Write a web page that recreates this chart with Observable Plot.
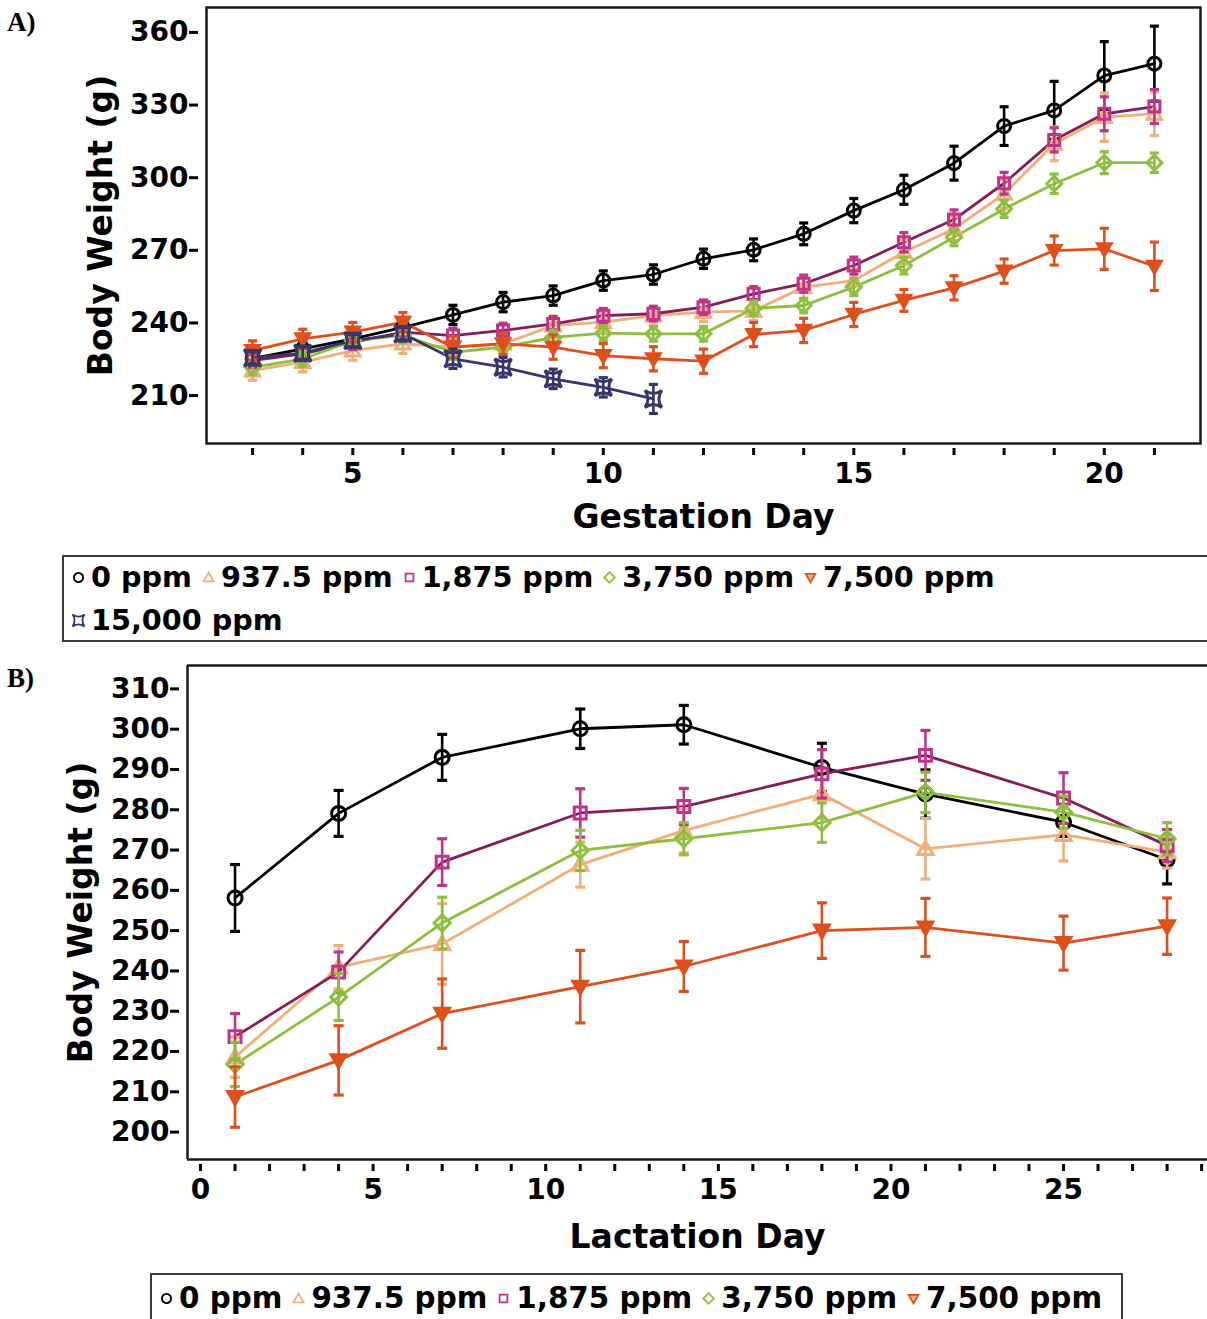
<!DOCTYPE html>
<html><head><meta charset="utf-8">
<script src="https://cdn.jsdelivr.net/npm/d3@7"></script>
<script src="https://cdn.jsdelivr.net/npm/@observablehq/plot@0.6"></script>
<style>
body{margin:0;background:#fff;font-family:"DejaVu Sans",sans-serif;}
#root{position:relative;width:1207px;height:1319px;overflow:hidden;background:#fff;}
.panel{position:absolute;left:0;}
.tag{position:absolute;left:7px;font-family:"Liberation Serif","Times New Roman",serif;font-weight:bold;font-size:27px;line-height:1;}
.legend{position:absolute;border:2px solid #3a3a3a;box-sizing:border-box;font-weight:bold;color:#000;font-family:"DejaVu Sans",sans-serif;}
.row{position:absolute;display:flex;align-items:center;white-space:nowrap;height:36px;}
.item{display:inline-flex;align-items:center;}
.item svg{margin-right:5px;}
</style></head><body><div id="root"></div>
<script>
// ---------- data ----------
const seriesNames = ["0 ppm", "937.5 ppm", "1,875 ppm", "3,750 ppm", "7,500 ppm", "15,000 ppm"];

// Panel A: Gestation
const gestationDays = [3, 4, 5, 6, 7, 8, 9, 10, 11, 12, 13, 14, 15, 16, 17, 18, 19, 20, 21];
const gest0     = [225.3, 229.3, 233.4, 238.2, 243.3, 248.6, 251.3, 257.5, 260.0, 266.5, 270.2, 276.8, 286.4, 295.0, 306.0, 321.3, 327.8, 342.2, 347.1];
const gest0Err  = [3, 3, 3, 3, 4, 4, 4, 4, 4, 4, 4.5, 4.5, 5, 6, 7, 8, 12, 14, 15.5];
const gest937   = [220.3, 223.8, 228.6, 231.4, 230.0, 231.4, 238.9, 240.3, 243.0, 244.5, 245.0, 254.8, 257.5, 269.2, 278.9, 293.3, 314.0, 325.0, 326.4];
const gest937Err= [4, 4, 4, 4, 4, 4, 4, 4, 4, 4, 4, 5, 5, 5, 5, 6, 7, 10, 9];
const gest1875  = [224.5, 227.2, 232.0, 236.2, 234.8, 236.9, 239.6, 243.0, 243.8, 246.5, 252.0, 256.2, 263.7, 273.3, 282.7, 297.7, 315.6, 326.4, 329.4];
const gest1875Err=[3, 3, 3, 3, 3, 3, 3, 3, 3, 3, 3, 3.5, 3.5, 4, 4, 4.5, 5, 7, 7];
const gest3750  = [221.7, 225.1, 232.7, 234.9, 227.9, 230.0, 234.0, 235.8, 235.5, 235.5, 246.0, 247.2, 254.8, 263.7, 275.4, 287.1, 297.5, 306.2, 306.2];
const gest3750Err=[3, 3, 3, 3, 3, 3, 3, 3, 3, 3, 3, 3, 3.5, 3.5, 3.5, 3.5, 4, 4.5, 4];
const gest7500  = [228.6, 233.4, 236.2, 240.3, 230.0, 231.4, 230.0, 226.5, 225.2, 224.2, 235.2, 236.9, 243.5, 249.3, 254.5, 261.4, 269.9, 270.6, 263.4];
const gest7500Err=[4, 4, 4, 4, 4.5, 4.5, 5, 5, 5, 5, 5, 5, 5, 4.5, 5, 5, 6, 8.5, 10];
const gest15000Days = [3, 4, 5, 6, 7, 8, 9, 10, 11];
const gest15000 = [225.6, 227.5, 232.7, 235.5, 225.2, 221.7, 216.9, 213.4, 208.6];
const gest15000Err=[3, 3, 3, 3, 4, 4, 4, 4, 6];

// Panel B: Lactation
const lactationDays = [1, 4, 7, 11, 14, 18, 21, 25, 28];
const lact0      = [258.1, 279.1, 293.0, 300.1, 301.1, 290.5, 283.9, 276.9, 267.6];
const lact0Err   = [8.3, 5.7, 5.7, 4.9, 4.8, 6, 6, 3.5, 6];
const lact937    = [218.6, 240.9, 246.7, 266.4, 274.8, 283.9, 270.3, 273.8, 269.5];
const lact937Err = [5, 5.4, 10, 5.6, 5.5, 6, 7.5, 6.5, 4];
const lact1875   = [223.7, 239.7, 267.0, 279.2, 280.8, 288.9, 293.5, 282.9, 271.1];
const lact1875Err= [5.7, 5, 5.8, 6, 4.5, 6, 6.2, 6.3, 4];
const lact3750   = [216.8, 233.5, 251.9, 269.9, 272.8, 276.8, 284.3, 279.4, 272.8];
const lact3750Err= [5.5, 5.8, 6.4, 5, 4, 4.9, 5, 4, 4];
const lact7500   = [208.7, 217.8, 229.4, 236.1, 241.1, 250.0, 250.8, 246.9, 251.1];
const lact7500Err= [7.5, 8.6, 8.6, 9, 6.2, 6.9, 7.2, 6.7, 7];

// tick values
const gestYTicks = [210, 240, 270, 300, 330, 360];
const gestXTicks = gestationDays;
const gestXLabels = [5, 10, 15, 20];
const lactYTicks = [200, 210, 220, 230, 240, 250, 260, 270, 280, 290, 300, 310];
const lactXTicks = [0, 1, 2, 3, 4, 5, 6, 7, 8, 9, 10, 11, 12, 13, 14, 15, 16, 17, 18, 19, 20, 21, 22, 23, 24, 25, 26, 27, 28, 29];
const lactXLabels = [0, 5, 10, 15, 20, 25];

// ---------- styles ----------
const lineColors = ["#000000", "#F2AE78", "#861C58", "#8CC03C", "#DE4F1C", "#37356C"];
const markColors = ["#000000", "#F2AE78", "#C0338A", "#8CC03C", "#DE4F1C", "#37356C"];

function rad(size) { return Math.sqrt(size / Math.PI); }
const symCircle = {draw(c, s) { const r = rad(s); c.moveTo(r, 0); c.arc(0, 0, r, 0, 2 * Math.PI); c.closePath(); }};
const symUp = {draw(c, s) { const r = rad(s) * 1.1; c.moveTo(0, -r); c.lineTo(r, r * 0.75); c.lineTo(-r, r * 0.75); c.closePath(); }};
const symSquare = {draw(c, s) { const r = rad(s) * 0.85; c.rect(-r, -r, 2 * r, 2 * r); }};
const symDiamond = {draw(c, s) { const r = rad(s) * 1.15; c.moveTo(0, -r); c.lineTo(r, 0); c.lineTo(0, r); c.lineTo(-r, 0); c.closePath(); }};
const symDown = {draw(c, s) { const r = rad(s) * 1.05; c.moveTo(-r, -r * 0.75); c.lineTo(r, -r * 0.75); c.lineTo(0, r); c.closePath(); }};
const symStar = {draw(c, s) { const r = rad(s) * 1.3; const k = r * 0.3;
  c.moveTo(-r, -r); c.quadraticCurveTo(0, -k, r, -r); c.quadraticCurveTo(k, 0, r, r);
  c.quadraticCurveTo(0, k, -r, r); c.quadraticCurveTo(-k, 0, -r, -r); c.closePath(); }};
const symCap = {draw(c, s) { const r = rad(s); c.moveTo(-r, 0); c.lineTo(r, 0); }};
const symbols = [symCircle, symUp, symSquare, symDiamond, symDown, symStar];
const fills = ["none", "none", "none", "none", "#DE4F1C", "none"];

const gestSeries = [
  {days: gestationDays, values: gest0, err: gest0Err},
  {days: gestationDays, values: gest937, err: gest937Err},
  {days: gestationDays, values: gest1875, err: gest1875Err},
  {days: gestationDays, values: gest3750, err: gest3750Err},
  {days: gestationDays, values: gest7500, err: gest7500Err},
  {days: gest15000Days, values: gest15000, err: gest15000Err}
];
const lactSeries = [
  {days: lactationDays, values: lact0, err: lact0Err},
  {days: lactationDays, values: lact937, err: lact937Err},
  {days: lactationDays, values: lact1875, err: lact1875Err},
  {days: lactationDays, values: lact3750, err: lact3750Err},
  {days: lactationDays, values: lact7500, err: lact7500Err}
];

function panel(o) {
  const rows = [];
  o.series.forEach((s, i) => s.values.forEach((v, j) => rows.push({day: s.days[j], v, e: s.err[j], g: i})));
  const labelSet = new Set(o.xLabels);
  const marks = [];
  if (o.fullFrame) marks.push(Plot.frame({stroke: "#1a1a1a", strokeWidth: 2.5}));
  else {
    marks.push(Plot.ruleX([o.xDomain[0]], {stroke: "#1a1a1a", strokeWidth: 2.5}));
    marks.push(Plot.ruleY(o.yDomain, {stroke: "#1a1a1a", strokeWidth: 2.5}));
  }
  o.series.forEach((s, i) => {
    marks.push(Plot.line(rows.filter(r => r.g === i), {x: "day", y: "v", stroke: lineColors[i], strokeWidth: 2.8}));
  });
  o.series.forEach((s, i) => {
    const d = rows.filter(r => r.g === i);
    marks.push(Plot.ruleX(d, {x: "day", y1: r => r.v - r.e, y2: r => r.v + r.e, stroke: markColors[i], strokeWidth: 2.6}));
    marks.push(Plot.dot(d, {x: "day", y: r => r.v + r.e, symbol: symCap, r: o.capR, stroke: markColors[i], strokeWidth: 3.2}));
    marks.push(Plot.dot(d, {x: "day", y: r => r.v - r.e, symbol: symCap, r: o.capR, stroke: markColors[i], strokeWidth: 3.2}));
    marks.push(Plot.dot(d, {x: "day", y: "v", symbol: symbols[i], r: o.dotR, stroke: markColors[i], fill: fills[i], strokeWidth: 3}));
  });
  marks.push(Plot.axisY(o.yTicks, {anchor: "left", tickSize: 9, dx: -8, tickPadding: 1, fontSize: 28, fontWeight: "bold", stroke: "#000", fill: "#000", strokeWidth: 3, label: null}));
  marks.push(Plot.axisX(o.xTicks, {anchor: "bottom", tickSize: 7, dy: 5, tickPadding: 8, fontSize: 28, fontWeight: "bold", stroke: "#000", fill: "#000", strokeWidth: 3, label: null,
    tickFormat: d => labelSet.has(d) ? String(d) : ""}));
  marks.push(Plot.text([o.xTitle], {frameAnchor: "bottom", dy: o.xTitleDy, lineAnchor: "middle", textAnchor: "middle", text: d => d, fontSize: 33, fontWeight: "bold", fill: "#000"}));
  marks.push(Plot.text([o.yTitle], {frameAnchor: "left", rotate: -90, dx: o.yTitleDx, lineAnchor: "middle", textAnchor: "middle", text: d => d, fontSize: 33, fontWeight: "bold", fill: "#000"}));
  return Plot.plot({
    width: 1207, height: o.height,
    marginLeft: o.margins[0], marginRight: o.margins[1], marginTop: o.margins[2], marginBottom: o.margins[3],
    x: {domain: o.xDomain, axis: null},
    y: {domain: o.yDomain, axis: null},
    style: {fontFamily: "DejaVu Sans", fontWeight: "bold", background: "transparent", overflow: "visible"},
    marks
  });
}

const root = document.getElementById("root");

const svgA = panel({series: gestSeries, xDomain: [2.08, 21.92], yDomain: [190.2, 370.3],
  yTicks: gestYTicks, xTicks: gestXTicks, xLabels: gestXLabels, height: 545, margins: [206, 7, 7, 102],
  fullFrame: true, xTitle: "Gestation Day", yTitle: "Body Weight (g)", xTitleDy: 74, yTitleDx: -105, capR: 4.5, dotR: 6.5});
svgA.classList.add("panel"); svgA.style.top = "0px";
root.appendChild(svgA);

const svgB = panel({series: lactSeries, xDomain: [-0.377, 29.17], yDomain: [193.2, 315.8],
  yTicks: lactYTicks, xTicks: lactXTicks, xLabels: lactXLabels, height: 620, margins: [187, 0, 15, 111],
  fullFrame: false, xTitle: "Lactation Day", yTitle: "Body Weight (g)", xTitleDy: 78, yTitleDx: -106, capR: 5, dotR: 7});
svgB.classList.add("panel"); svgB.style.top = "650px";
root.appendChild(svgB);

function tag(t, top) { const d = document.createElement("div"); d.className = "tag"; d.textContent = t; d.style.top = top + "px"; root.appendChild(d); }
tag("A)", 9);
tag("B)", 665);

function legendSymbol(i) {
  const ns = "http://www.w3.org/2000/svg";
  const svg = document.createElementNS(ns, "svg");
  svg.setAttribute("width", 15); svg.setAttribute("height", 15); svg.setAttribute("viewBox", "-7.5 -7.5 15 15");
  const p = d3.path(); symbols[i].draw(p, Math.PI * 4.6 * 4.6);
  const path = document.createElementNS(ns, "path");
  path.setAttribute("d", p.toString());
  path.setAttribute("fill", i === 4 ? "#F7B08A" : "none");
  path.setAttribute("stroke", markColors[i]); path.setAttribute("stroke-width", 1.8);
  svg.appendChild(path);
  return svg;
}
function legend(left, top, width, height, fontSize, gap, rowsSpec) {
  const box = document.createElement("div"); box.className = "legend";
  Object.assign(box.style, {left: left + "px", top: top + "px", width: width + "px", height: height + "px", fontSize: fontSize + "px"});
  rowsSpec.forEach(([idxs, rowTop]) => {
    const row = document.createElement("div"); row.className = "row";
    row.style.left = "7px"; row.style.top = rowTop + "px";
    idxs.forEach(i => {
      const it = document.createElement("span"); it.className = "item";
      it.style.marginRight = gap + "px";
      it.appendChild(legendSymbol(i));
      const t = document.createElement("span"); t.textContent = seriesNames[i];
      it.appendChild(t); row.appendChild(it);
    });
    box.appendChild(row);
  });
  root.appendChild(box);
}
legend(62, 555, 1160, 87, 28.7, 9, [[[0, 1, 2, 3, 4], 2], [[5], 45]]);
legend(150, 1273, 973, 60, 29.4, 9, [[[0, 1, 2, 3, 4], 5]]);
</script></body></html>
